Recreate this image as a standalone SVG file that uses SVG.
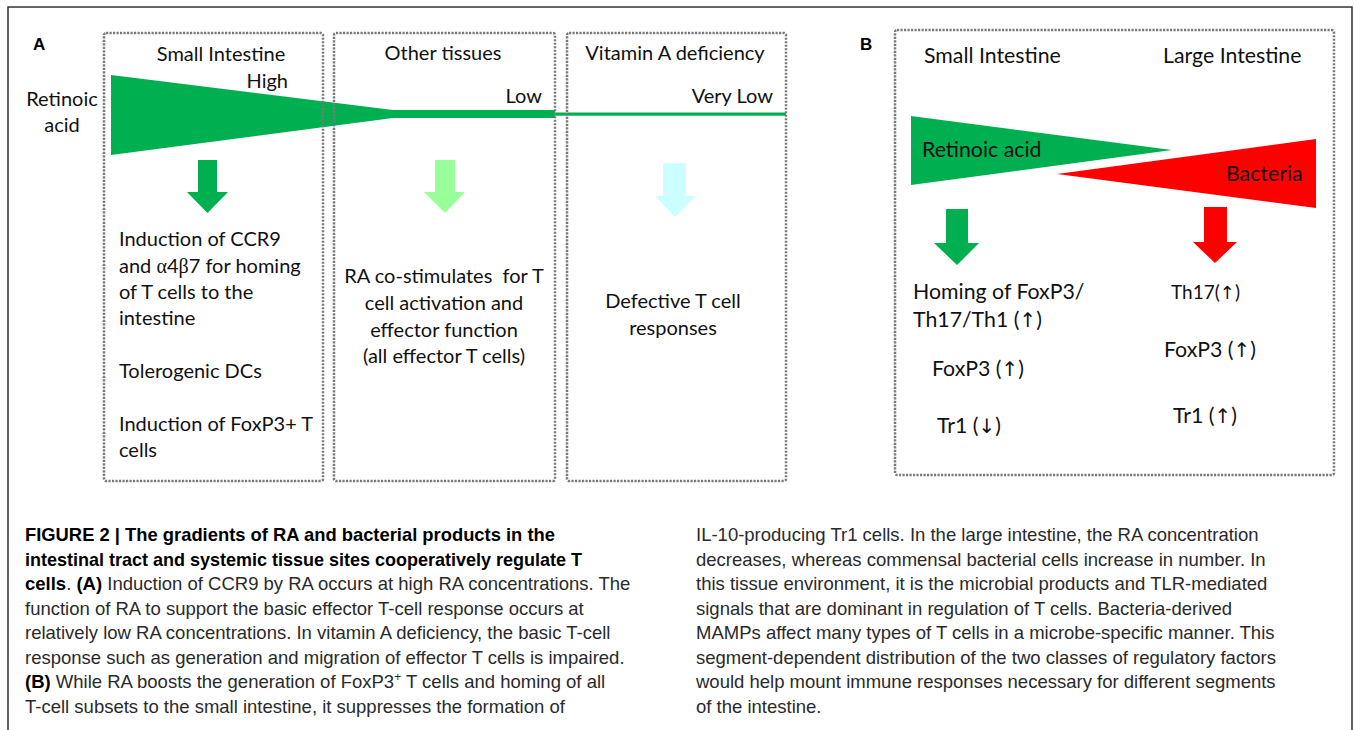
<svg xmlns="http://www.w3.org/2000/svg" width="1354" height="730" viewBox="0 0 1354 730">
<style>
.bx{fill:none;stroke:#7a7a7a;stroke-width:2.5;stroke-dasharray:2.2 1.3}
.t{font-family:Lato,"Open Sans",sans-serif;font-size:20px;fill:#111}
.tb{font-family:Lato,"Open Sans",sans-serif;font-size:21.3px;fill:#111}
.m{text-anchor:middle}
.e{text-anchor:end}
.sym{font-family:"DejaVu Sans","Liberation Sans",sans-serif;font-size:20px;font-weight:normal;fill:#111}
.gr{font-family:"Liberation Serif",serif}
.lab{font-family:"Liberation Sans",Arial,sans-serif;font-weight:bold;font-size:17px;fill:#000}
.cap{font-family:"Liberation Sans",Arial,sans-serif;font-size:18.5px;fill:#2a2a2a}
.b{font-weight:bold;fill:#000}
</style>
<rect width="1354" height="730" fill="#fff"/>
<path d="M8,730 V7 H1352 V730" fill="none" stroke="#333" stroke-width="1.5"/>

<g id="panelA">
  <text class="lab" x="33" y="50">A</text>
  <text class="t m" x="62" y="106">Retinoic</text>
  <text class="t m" x="62" y="132">acid</text>
  <g id="ra-gradient">
    <polygon points="111,75 393,110 555,110 555,118 393,118 111,155" fill="#00B050"/>
    <rect x="555" y="112.5" width="231" height="3.2" fill="#00B050"/>
  </g>
  <g id="box-small-intestine">
    <rect class="bx" x="104" y="33" width="219" height="448" rx="2"/>
    <text class="t m" x="221" y="61">Small Intestine</text>
    <text class="t e" x="288" y="88">High</text>
    <polygon points="198,160 217,160 217,192 228,192 207.5,213 187,192 198,192" fill="#00B050"/>
    <text class="t" x="119" y="246">Induction of CCR9</text>
    <text class="t" x="119" y="273">and <tspan class="gr">α</tspan>4<tspan class="gr">β</tspan>7 for homing</text>
    <text class="t" x="119" y="299">of T cells to the</text>
    <text class="t" x="119" y="325">intestine</text>
    <text class="t" x="119" y="378">Tolerogenic DCs</text>
    <text class="t" x="119" y="431">Induction of FoxP3+ T</text>
    <text class="t" x="119" y="457">cells</text>
  </g>
  <g id="box-other-tissues">
    <rect class="bx" x="334" y="33" width="221" height="448" rx="2"/>
    <text class="t m" x="443" y="60">Other tissues</text>
    <text class="t e" x="542" y="103">Low</text>
    <polygon points="435,160 455,160 455,192 465,192 445,213 424,192 435,192" fill="#99FF99"/>
    <text class="t m" x="444" y="283">RA co-stimulates&#160; for T</text>
    <text class="t m" x="444" y="310">cell activation and</text>
    <text class="t m" x="444" y="337">effector function</text>
    <text class="t m" x="444" y="363">(all effector T cells)</text>
  </g>
  <g id="box-vitamin-a">
    <rect class="bx" x="567" y="33" width="219" height="448" rx="2"/>
    <text class="t m" x="675" y="60">Vitamin A deficiency</text>
    <text class="t e" x="773" y="103">Very Low</text>
    <polygon points="663,163 686,163 686,196 696,196 675,217 655,196 663,196" fill="#CCFFFF"/>
    <text class="t m" x="673" y="308">Defective T cell</text>
    <text class="t m" x="673" y="335">responses</text>
  </g>
</g>

<g id="panelB">
  <text class="lab" x="860" y="50">B</text>
  <rect class="bx" x="895" y="30" width="439" height="445" rx="2"/>
  <text class="tb" x="924" y="63">Small Intestine</text>
  <text class="tb" x="1163" y="63">Large Intestine</text>
  <g id="ra-wedge">
    <polygon points="911,116 1172,150 911,185" fill="#00B050"/>
    <text class="tb" x="922" y="157">Retinoic acid</text>
  </g>
  <g id="bacteria-wedge">
    <polygon points="1057,174 1316,139 1316,208" fill="#FF0000"/>
    <text class="tb" x="1226" y="181">Bacteria</text>
  </g>
  <g id="small-int-effects">
    <polygon points="946,209 968,209 968,243 979,243 957,265 934,243 946,243" fill="#00B050"/>
    <text class="tb" x="913" y="299">Homing of FoxP3/</text>
    <text class="tb" x="913" y="327">Th17/Th1 (<tspan class="sym">↑</tspan>)</text>
    <text class="tb" x="932" y="376">FoxP3 (<tspan class="sym">↑</tspan>)</text>
    <text class="tb" x="937" y="433">Tr1 (<tspan class="sym">↓</tspan>)</text>
  </g>
  <g id="large-int-effects">
    <polygon points="1204,207 1227,207 1227,242 1237,242 1215,263 1193,242 1204,242" fill="#FF0000"/>
    <text class="tb" x="1171" y="299" style="font-size:19px">Th17(<tspan class="sym" style="font-size:18px">↑</tspan>)</text>
    <text class="tb" x="1164" y="357">FoxP3 (<tspan class="sym">↑</tspan>)</text>
    <text class="tb" x="1173" y="423">Tr1 (<tspan class="sym">↑</tspan>)</text>
  </g>
</g>

<g id="caption">
  <text class="cap b" x="25" y="541" textLength="530" lengthAdjust="spacingAndGlyphs">FIGURE 2 | The gradients of RA and bacterial products in the</text>
  <text class="cap b" x="25" y="565.5" textLength="557" lengthAdjust="spacingAndGlyphs">intestinal tract and systemic tissue sites cooperatively regulate T</text>
  <text class="cap" x="25" y="590"><tspan class="b">cells</tspan>. <tspan class="b">(A)</tspan> Induction of CCR9 by RA occurs at high RA concentrations. The</text>
  <text class="cap" x="25" y="614.5">function of RA to support the basic effector T-cell response occurs at</text>
  <text class="cap" x="25" y="639">relatively low RA concentrations. In vitamin A deficiency, the basic T-cell</text>
  <text class="cap" x="25" y="663.5">response such as generation and migration of effector T cells is impaired.</text>
  <text class="cap" x="25" y="688"><tspan class="b">(B)</tspan> While RA boosts the generation of FoxP3<tspan font-size="12" dy="-7">+</tspan><tspan dy="7"> T cells and homing of all</tspan></text>
  <text class="cap" x="25" y="712.5">T-cell subsets to the small intestine, it suppresses the formation of</text>
  <text class="cap" x="696" y="541">IL-10-producing Tr1 cells. In the large intestine, the RA concentration</text>
  <text class="cap" x="696" y="565.5">decreases, whereas commensal bacterial cells increase in number. In</text>
  <text class="cap" x="696" y="590">this tissue environment, it is the microbial products and TLR-mediated</text>
  <text class="cap" x="696" y="614.5">signals that are dominant in regulation of T cells. Bacteria-derived</text>
  <text class="cap" x="696" y="639">MAMPs affect many types of T cells in a microbe-specific manner. This</text>
  <text class="cap" x="696" y="663.5">segment-dependent distribution of the two classes of regulatory factors</text>
  <text class="cap" x="696" y="688">would help mount immune responses necessary for different segments</text>
  <text class="cap" x="696" y="712.5">of the intestine.</text>
</g>
</svg>
